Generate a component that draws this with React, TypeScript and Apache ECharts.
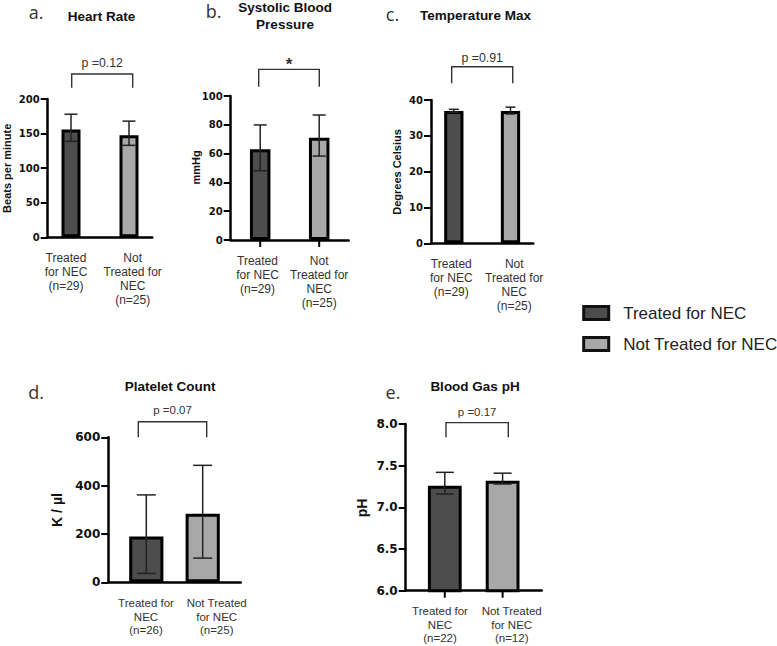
import React, { useEffect, useRef } from "react";
import * as echarts from "echarts";

// ---------- data ----------
const groups = ["Treated for NEC", "Not Treated for NEC"];

const catA = ["Treated\nfor NEC\n(n=29)", "Not\nTreated for\nNEC\n(n=25)"];
const catB = ["Treated\nfor NEC\n(n=29)", "Not\nTreated for\nNEC\n(n=25)"];
const catC = ["Treated\nfor NEC\n(n=29)", "Not\nTreated for\nNEC\n(n=25)"];
const catD = ["Treated for\nNEC\n(n=26)", "Not Treated\nfor NEC\n(n=25)"];
const catE = ["Treated for\nNEC\n(n=22)", "Not Treated\nfor NEC\n(n=12)"];

const meanA = [156, 147.5];
const meanB = [63, 71];
const meanC = [36.9, 36.9];
const meanD = [190, 284];
const meanE = [7.26, 7.32];

const errA = [[138.8, 178], [133, 168]];
const errB = [[48.1, 79.9], [58.3, 86.8]];
const errC = [[36.6, 37.4], [36.1, 38.0]];
const errD = [[36.7, 361.7], [100, 484]];
const errE = [[7.16, 7.42], [7.28, 7.41]];

const ticksA = [0, 50, 100, 150, 200];
const ticksB = [0, 20, 40, 60, 80, 100];
const ticksC = [0, 10, 20, 30, 40];
const ticksD = [0, 200, 400, 600];
const ticksE = [6.0, 6.5, 7.0, 7.5, 8.0];

const pLabels = ["p =0.12", "*", "p =0.91", "p =0.07", "p =0.17"];

const titles = ["Heart Rate", "Systolic Blood\nPressure", "Temperature Max", "Platelet Count", "Blood Gas pH"];
const letters = ["a.", "b.", "c.", "d.", "e."];
const yNames = ["Beats per minute", "mmHg", "Degrees Celsius", "K / µl", "pH"];

// ---------- layout (positions / styles) ----------
const panels = [
  { cats: catA, mean: meanA, err: errA, ticks: ticksA, dec: 0,
    grid: { left: 47.7, top: 99, width: 104.6, height: 138.3 },
    barW: 19, shift: 2.85, labelDx: [-7.85, 6.55], font: 12, lh: 14, tickFont: 10,
    xTicks: false, br: [216.3, 236.2, 252], brDx: [-2.15, 6.55], pFont: 12.3, capHalf: 6.5,
    title: { x: 101.5, y: 16 }, letter: { x: 36, y: 12 }, yName: { x: 7, y: 168.3, size: 11 } },
  { cats: catB, mean: meanB, err: errB, ticks: ticksB, dec: 0,
    grid: { left: 230.7, top: 96, width: 118, height: 144 },
    barW: 20.5, shift: 0, labelDx: [-2.7, 0], font: 12, lh: 14, tickFont: 10,
    xTicks: true, br: [106.5, 118.5, 122], brDx: [-1.5, 0.1], pFont: 17, capHalf: 6.5,
    title: { x: 285, y: 16 }, letter: { x: 213.5, y: 11 }, yName: { x: 196, y: 167.5, size: 11 } },
  { cats: catC, mean: meanC, err: errC, ticks: ticksC, dec: 0,
    grid: { left: 431, top: 100, width: 102.3, height: 143.3 },
    barW: 19.3, shift: 2.75, labelDx: [-5.3, 6.5], font: 12, lh: 14, tickFont: 10,
    xTicks: false, br: [44.7, 49.3, 51.6], brDx: [-4.9, 5.0], pFont: 12.3, capHalf: 5,
    title: { x: 475.5, y: 15.5 }, letter: { x: 392.5, y: 14 }, yName: { x: 397, y: 172, size: 11 } },
  { cats: catD, mean: meanD, err: errD, ticks: ticksD, dec: 0,
    grid: { left: 108.3, top: 437.3, width: 132.4, height: 145 },
    barW: 34.2, shift: -4.9, labelDx: [4.6, 9.1], font: 11.5, lh: 13.5, tickFont: 12,
    xTicks: false, br: [600, 664.6, 711], brDx: [-3.1, -0.9], pFont: 11.5, capHalf: 9.5,
    title: { x: 170, y: 386 }, letter: { x: 36, y: 392 }, yName: { x: 57, y: 510, size: 14 } },
  { cats: catE, mean: meanE, err: errE, ticks: ticksE, dec: 1,
    grid: { left: 405.7, top: 424, width: 136, height: 166.7 },
    barW: 33.8, shift: -5.1, labelDx: [0.3, 4], font: 11.5, lh: 13.5, tickFont: 12,
    xTicks: true, br: [7.84, 8.016, 8.138], brDx: [6.3, 0.6], pFont: 11.5, capHalf: 9,
    title: { x: 475, y: 386 }, letter: { x: 393, y: 392 }, yName: { x: 362, y: 508, size: 14 } },
];

const FILLS = ["#4d4d4d", "#a8a8a8"];
const SANS = "'Liberation Sans', Arial, sans-serif";

function txt(text: string, x: number, y: number, extra: any, rotation = 0) {
  return {
    type: "text",
    x, y, rotation,
    silent: true,
    style: {
      text,
      align: "center", verticalAlign: "middle",
      textAlign: "center", textVerticalAlign: "middle",
      fill: "#222",
      fontFamily: SANS,
      ...extra,
    },
  };
}

function buildOption() {
  const grid: any[] = [];
  const xAxis: any[] = [];
  const yAxis: any[] = [];
  const series: any[] = [];
  const graphic: any[] = [];

  panels.forEach((p, i) => {
    grid.push({ ...p.grid });
    const rich: any = {};
    p.labelDx.forEach((dx, k) => {
      rich["s" + k] = {
        fontSize: p.font, lineHeight: p.lh, fontFamily: SANS, color: "#333",
        align: "center",
        padding: dx >= 0 ? [0, 0, 0, 2 * dx] : [0, -2 * dx, 0, 0],
      };
    });
    xAxis.push({
      type: "category", gridIndex: i, data: p.cats,
      axisLine: { show: true, lineStyle: { color: "#000", width: 2.5 } },
      axisTick: { show: false },
      axisLabel: {
        interval: 0, margin: 14, fontSize: p.font, lineHeight: p.lh, fontFamily: SANS, color: "#333",
        formatter: (v: string, idx: number) => `{s${idx}|${v}}`,
        rich,
      },
      splitLine: { show: false },
    });
    const t = p.ticks;
    yAxis.push({
      type: "value", gridIndex: i,
      min: t[0], max: t[t.length - 1], interval: t[1] - t[0],
      axisLine: { show: true, lineStyle: { color: "#000", width: 2.5 } },
      axisTick: { show: true, length: 7, lineStyle: { color: "#000", width: 2 } },
      axisLabel: {
        margin: 8, fontFamily: "'DejaVu Sans', sans-serif", fontWeight: "bold",
        fontSize: p.tickFont, color: "#111",
        formatter: (v: number) => v.toFixed(p.dec),
      },
      splitLine: { show: false },
    });

    const gap = ((2 * p.shift - p.barW) / p.barW) * 100;
    groups.forEach((g, k) => {
      series.push({
        type: "bar", name: g, xAxisIndex: i, yAxisIndex: i,
        data: p.mean.map((m, j) => (j === k ? m : "-")),
        barWidth: p.barW, barGap: gap.toFixed(2) + "%",
        itemStyle: { color: FILLS[k], borderColor: "#000", borderWidth: 3 },
        silent: true, z: 2,
      });
    });

    // error bars (+ ticks under bars)
    series.push({
      type: "custom", xAxisIndex: i, yAxisIndex: i, silent: true, z: 5,
      data: p.err.map((e, j) => [j, e[0], e[1]]),
      encode: { x: 0, y: [1, 2] },
      renderItem: (params: any, api: any) => {
        const idx = api.value(0);
        const lo = api.coord([idx, api.value(1)]);
        const hi = api.coord([idx, api.value(2)]);
        const x = lo[0] + (idx === 0 ? -p.shift : p.shift);
        const c = p.capHalf;
        const st = { stroke: "#222", lineWidth: 1.5 };
        const children: any[] = [
          { type: "line", shape: { x1: x, y1: lo[1], x2: x, y2: hi[1] }, style: st },
          { type: "line", shape: { x1: x - c, y1: hi[1], x2: x + c, y2: hi[1] }, style: st },
          { type: "line", shape: { x1: x - c, y1: lo[1], x2: x + c, y2: lo[1] }, style: st },
        ];
        if (p.xTicks) {
          const b = api.coord([idx, p.ticks[0]]);
          children.push({ type: "line", shape: { x1: x, y1: b[1], x2: x, y2: b[1] + 7 }, style: { stroke: "#000", lineWidth: 2 } });
        }
        return { type: "group", children };
      },
    });

    // significance bracket + label
    series.push({
      type: "custom", xAxisIndex: i, yAxisIndex: i, silent: true, z: 5, clip: false,
      data: [[0, p.br[0], p.br[1], p.br[2]]],
      encode: { x: 0, y: [1, 2, 3] },
      renderItem: (params: any, api: any) => {
        const b = api.coord([0, api.value(1)]);
        const top = api.coord([0, api.value(2)]);
        const pt = api.coord([0, api.value(3)]);
        const x0 = api.coord([0, api.value(2)])[0] + p.brDx[0];
        const x1 = api.coord([1, api.value(2)])[0] + p.brDx[1];
        return {
          type: "group",
          children: [
            {
              type: "polyline",
              shape: { points: [[x0, b[1]], [x0, top[1]], [x1, top[1]], [x1, b[1]]] },
              style: { stroke: "#333", lineWidth: 1.4, fill: "none" },
            },
            {
              type: "text", x: (x0 + x1) / 2, y: pt[1],
              style: {
                text: pLabels[i], fill: "#333",
                fontSize: p.pFont, fontFamily: SANS, fontWeight: i === 1 ? "bold" : "normal",
                align: "center", verticalAlign: "middle",
                textAlign: "center", textVerticalAlign: "middle",
              },
            },
          ],
        };
      },
    });

    graphic.push(txt(titles[i], p.title.x, p.title.y, { fontSize: 13.5, fontWeight: "bold", lineHeight: 17, fill: "#111" }));
    graphic.push(txt(letters[i], p.letter.x, p.letter.y, { fontSize: 18, fontFamily: "'Open Sans', sans-serif", fill: "#333" }));
    graphic.push(txt(yNames[i], p.yName.x, p.yName.y, { fontSize: p.yName.size, fontWeight: "bold", fill: "#111" }, Math.PI / 2));
  });

  return {
    animation: false,
    backgroundColor: "#ffffff",
    grid, xAxis, yAxis, series, graphic,
    legend: {
      data: groups,
      orient: "vertical",
      left: 582.2, top: 303,
      padding: 0,
      itemWidth: 25, itemHeight: 13, itemGap: 11,
      icon: "rect",
      selectedMode: false,
      itemStyle: { borderColor: "#111", borderWidth: 3 },
      textStyle: { fontSize: 17, fontFamily: SANS, color: "#222", lineHeight: 20, padding: [0, 0, 0, 9.5] },
    },
  };
}

export default function App() {
  const ref = useRef<HTMLDivElement>(null);
  useEffect(() => {
    if (!ref.current) return;
    const chart = echarts.init(ref.current, undefined, { renderer: "svg" });
    chart.setOption(buildOption() as any);
    return () => chart.dispose();
  }, []);
  return (
    <div
      ref={ref}
      style={{ position: "fixed", left: 0, top: 0, width: 777, height: 646, background: "#fff" }}
    />
  );
}
